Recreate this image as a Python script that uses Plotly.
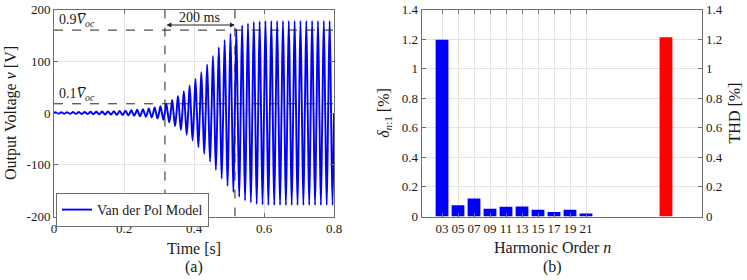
import plotly.graph_objects as go

# ---------------- data ----------------
# (a) per-cycle peak amplitude of the Van der Pol output voltage [V], 60 Hz, 0..0.8 s
freq_hz = 60
cycle_amp = [1.5, 1.6, 1.7, 1.8, 2.0, 2.1, 2.3, 2.5, 2.8, 3.1, 3.5, 4.0,
             4.6, 5.3, 6.2, 7.3, 8.7, 10.5, 13, 18, 25, 33, 42, 53,
             66, 79, 94, 110, 127, 141, 153, 162, 169, 173, 176, 177,
             178, 178, 178, 178, 178, 178, 178, 178, 178, 178, 178, 178]
v_oc = 178.0
t_10 = 0.317   # time at 0.1 Voc
t_90 = 0.517   # time at 0.9 Voc
time_ticks = [0, 0.2, 0.4, 0.6, 0.8]
time_ticktext = ["0", "0.2", "0.4", "0.6", "0.8"]
volt_ticks = [-200, -100, 0, 100, 200]
volt_ticktext = ["-200", "-100", "0", "100", "200"]

# (b) harmonic distortion
harm_labels = ["03", "05", "07", "09", "11", "13", "15", "17", "19", "21"]
harm_values = [1.195, 0.076, 0.122, 0.053, 0.066, 0.068, 0.046, 0.031, 0.046, 0.020]
thd_value = [1.212]
thd_pos = [15]
pct_ticks = [0, 0.2, 0.4, 0.6, 0.8, 1.0, 1.2, 1.4]
pct_ticktext = ["0", "0.2", "0.4", "0.6", "0.8", "1", "1.2", "1.4"]

# ---------------- build waveform points from peaks ----------------
T = 1.0 / freq_hz
t_pts, v_pts = [0.0], [0.0]
for k, a in enumerate(cycle_amp):
    t_pts += [k * T + T / 4, k * T + T / 2, k * T + 3 * T / 4, (k + 1) * T]
    v_pts += [a, 0.0, -a, 0.0]

FONT = "Liberation Serif"
AX = "#6e6e6e"
GRID = "#e3e3e3"
TXT = "#1a1a1a"

fig = go.Figure()
fig.add_trace(go.Scatter(x=t_pts, y=v_pts, mode="lines", name="Van der Pol Model",
                         line=dict(color="#0000ff", width=1.9, shape="spline", smoothing=1.0),
                         xaxis="x", yaxis="y"))

harm_pos = list(range(1, len(harm_labels) + 1))
fig.add_trace(go.Bar(x=harm_pos, y=harm_values, marker=dict(color="#0000ff", line=dict(width=0)),
                     width=0.8, xaxis="x2", yaxis="y2", showlegend=False))
fig.add_trace(go.Bar(x=thd_pos, y=thd_value, marker=dict(color="#ff0000", line=dict(width=0)),
                     width=0.8, xaxis="x2", yaxis="y3", showlegend=False))

ydom = [(280 - 216.5) / 280, (280 - 9.5) / 280]
axcommon = dict(showline=True, linecolor=AX, linewidth=1, ticks="inside", ticklen=4,
                tickcolor=AX, gridcolor=GRID, gridwidth=1, zeroline=False, automargin=False,
                tickfont=dict(family=FONT, size=13, color=TXT))

fig.update_layout(
    width=747, height=280,
    margin=dict(l=0, r=0, t=0, b=0),
    paper_bgcolor="white", plot_bgcolor="white",
    font=dict(family=FONT, size=13, color=TXT),
    barmode="overlay",
    xaxis=dict(domain=[54 / 747, 334 / 747], range=[0, 0.8], tickvals=time_ticks,
               ticktext=time_ticktext, mirror="ticks", anchor="y", **axcommon),
    yaxis=dict(domain=ydom, range=[-200, 200], tickvals=volt_ticks, ticktext=volt_ticktext,
               mirror="ticks", anchor="x",
               title=dict(text="Output Voltage <i>v</i> [V]", font=dict(family=FONT, size=16, color=TXT),
                          standoff=5),
               **axcommon),
    xaxis2=dict(domain=[421.7 / 747, 702.3 / 747], range=[-0.27, 17.27], tickvals=harm_pos,
                ticktext=harm_labels, mirror="ticks", anchor="y2", **axcommon),
    yaxis2=dict(domain=ydom, range=[0, 1.4], tickvals=pct_ticks, ticktext=pct_ticktext,
                anchor="x2",
                title=dict(text="<i>δ</i><sub><i>n</i>:1</sub> [%]", font=dict(family=FONT, size=16, color=TXT),
                           standoff=8),
                **axcommon),
    yaxis3=dict(range=[0, 1.4], tickvals=pct_ticks, ticktext=pct_ticktext,
                overlaying="y2", side="right", anchor="x2", showgrid=False,
                title=dict(text="THD [%]", font=dict(family=FONT, size=16, color=TXT), standoff=7),
                **{k: v for k, v in axcommon.items() if k not in ("gridcolor", "gridwidth")}),
    legend=dict(x=56 / 747, y=(280 - 193) / 280, xanchor="left", yanchor="top",
                bgcolor="white", bordercolor=AX, borderwidth=1,
                font=dict(family=FONT, size=14, color=TXT),
                itemwidth=30, tracegroupgap=0),
    showlegend=True,
)

# dashed reference lines
dash = dict(color="#222222", width=1, dash="dash")
fig.add_shape(type="line", xref="x", yref="y", x0=0, x1=0.8, y0=0.9 * v_oc, y1=0.9 * v_oc, line=dash)
fig.add_shape(type="line", xref="x", yref="y", x0=0, x1=0.8, y0=0.1 * v_oc, y1=0.1 * v_oc, line=dash)
fig.add_shape(type="line", xref="x", yref="y", x0=t_10, x1=t_10, y0=-200, y1=200, line=dash)
fig.add_shape(type="line", xref="x", yref="y", x0=t_90, x1=t_90, y0=-200, y1=200, line=dash)

ann = []
ann.append(dict(x=0.008, y=179, xref="x", yref="y", xanchor="left", yanchor="middle", showarrow=False,
                text="0.9<i>V̅</i><sub><i>oc</i></sub>", font=dict(family=FONT, size=14, color=TXT)))
ann.append(dict(x=0.008, y=35, xref="x", yref="y", xanchor="left", yanchor="middle", showarrow=False,
                text="0.1<i>V̅</i><sub><i>oc</i></sub>", font=dict(family=FONT, size=14, color=TXT)))
ann.append(dict(x=t_90, y=170, ax=t_10, ay=170, xref="x", yref="y", axref="x", ayref="y",
                showarrow=True, arrowhead=2, arrowside="end+start", arrowsize=1, arrowwidth=1,
                arrowcolor="#222222", text=""))
ann.append(dict(x=(t_10 + t_90) / 2, y=184, xref="x", yref="y", xanchor="center", yanchor="middle",
                showarrow=False, text="200 ms", font=dict(family=FONT, size=14, color=TXT)))
ann.append(dict(x=194 / 747, y=(280 - 248) / 280, xref="paper", yref="paper", showarrow=False,
                xanchor="center", yanchor="middle", text="Time [s]", font=dict(family=FONT, size=16, color=TXT)))
ann.append(dict(x=194 / 747, y=(280 - 267) / 280, xref="paper", yref="paper", showarrow=False,
                xanchor="center", yanchor="middle", text="(a)", font=dict(family=FONT, size=16, color=TXT)))
ann.append(dict(x=552 / 747, y=(280 - 247) / 280, xref="paper", yref="paper", showarrow=False,
                xanchor="center", yanchor="middle", text="Harmonic Order <i>n</i>",
                font=dict(family=FONT, size=16, color=TXT)))
ann.append(dict(x=552 / 747, y=(280 - 267) / 280, xref="paper", yref="paper", showarrow=False,
                xanchor="center", yanchor="middle", text="(b)", font=dict(family=FONT, size=16, color=TXT)))
fig.update_layout(annotations=ann)

fig.write_html("out.html", config={"displayModeBar": False},
               post_script="document.body.style.margin='0';document.body.style.padding='0';")
